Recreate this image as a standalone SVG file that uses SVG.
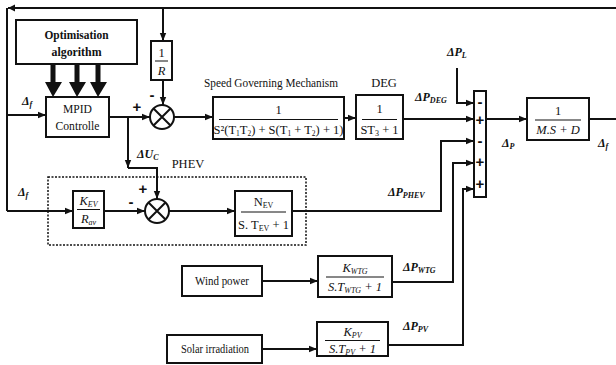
<svg xmlns="http://www.w3.org/2000/svg" width="616" height="365" viewBox="0 0 616 365">
<defs>
<marker id="ah" markerUnits="userSpaceOnUse" markerWidth="8" markerHeight="8" viewBox="0 0 8 8" refX="8" refY="4" orient="auto">
<path d="M0,0.8 L8,4 L0,7.2 Z" fill="#111"/>
</marker>
<style>
.ln{fill:none;stroke:#111;stroke-width:2}
.bx{fill:#fff;stroke:#111;stroke-width:2}
.t{font-family:"Liberation Serif",serif;font-size:12.5px;fill:#111;text-anchor:middle}
.b{font-weight:bold}
.m{font-family:"Liberation Serif",serif;font-style:italic;font-weight:bold;font-size:12px;fill:#111}
.s{font-size:8px}
.sg{font-family:"Liberation Sans",sans-serif;font-weight:bold;font-size:15px;fill:#111;text-anchor:middle}
.fr{stroke:#111;stroke-width:1}
</style>
</defs>
<g id="connectors">
<path class="ln" d="M616,8 H8 M7,8 V211" />
<path d="M8,8 L15,4.5 L15,11.5 Z" fill="#111"/>
<path class="ln" d="M7,211 H73" marker-end="url(#ah)"/>
<path class="ln" d="M7,115 H46" marker-end="url(#ah)"/>
<path class="ln" d="M163,8 V41" marker-end="url(#ah)"/>
<path class="ln" d="M163,80 V105" marker-end="url(#ah)"/>
<path class="ln" d="M109,117 H150" marker-end="url(#ah)"/>
<path class="ln" d="M128,117 V168" marker-end="url(#ah)"/>
<path class="ln" d="M128,168 H157 V199" marker-end="url(#ah)"/>
<path class="ln" d="M104,211 H145" marker-end="url(#ah)"/>
<path class="ln" d="M169,211 H235" marker-end="url(#ah)"/>
<path class="ln" d="M292,211 H441 V141 H474" marker-end="url(#ah)"/>
<path class="ln" d="M174,117 H213" marker-end="url(#ah)"/>
<path class="ln" d="M344,118 H356" marker-end="url(#ah)"/>
<path class="ln" d="M403,119 H474" marker-end="url(#ah)"/>
<path class="ln" d="M457,68 V103 H474" marker-end="url(#ah)"/>
<path class="ln" d="M486,119 H527" marker-end="url(#ah)"/>
<path class="ln" d="M589,119 H616"/>
<path class="ln" d="M262,281 H318" marker-end="url(#ah)"/>
<path class="ln" d="M392,282 H453 V163 H474" marker-end="url(#ah)"/>
<path class="ln" d="M262,349 H317" marker-end="url(#ah)"/>
<path class="ln" d="M388,345 H463 V189 H474" marker-end="url(#ah)"/>
<g fill="#111">
<rect x="50.5" y="64" width="5" height="19"/><path d="M45,82 H62 L53,97 Z"/>
<rect x="74.5" y="64" width="5" height="19"/><path d="M69,82 H86 L77,97 Z"/>
<rect x="95.5" y="64" width="5" height="19"/><path d="M90,82 H107 L98,97 Z"/>
</g>
</g>
<g id="phev-frame">
<rect x="48" y="177" width="258" height="68" fill="none" stroke="#111" stroke-width="1.5" stroke-dasharray="2 1.5"/>
</g>
<g id="optimisation">
<rect class="bx" x="16" y="20" width="121" height="44"/>
<text class="t b" x="76.5" y="39" font-size="13" textLength="64" lengthAdjust="spacingAndGlyphs">Optimisation</text>
<text class="t b" x="76.5" y="56" font-size="13" textLength="50" lengthAdjust="spacingAndGlyphs">algorithm</text>
</g>
<g id="mpid">
<rect class="bx" x="46" y="97" width="63" height="40"/>
<text class="t" x="77.5" y="113" textLength="29" lengthAdjust="spacingAndGlyphs">MPID</text>
<text class="t" x="77.5" y="130" textLength="44" lengthAdjust="spacingAndGlyphs">Controlle</text>
</g>
<g id="droop">
<rect class="bx" x="151" y="41" width="21" height="39"/>
<text class="t" x="161.5" y="57" font-size="11">1</text>
<line class="fr" x1="155" y1="61" x2="168" y2="61"/>
<text class="t" x="161.5" y="75" font-size="12" font-style="italic">R</text>
</g>
<g id="sum1">
<circle cx="162" cy="117" r="12" fill="#fff" stroke="#111" stroke-width="2"/>
<path class="ln" d="M153.5,108.5 L170.5,125.5 M170.5,108.5 L153.5,125.5"/>
<text class="sg" x="137" y="112">+</text>
<text class="sg" x="152" y="100">-</text>
</g>
<g id="sgm">
<text class="t" x="271" y="87" font-size="12" textLength="134" lengthAdjust="spacingAndGlyphs">Speed Governing Mechanism</text>
<rect class="bx" x="213" y="97" width="131" height="42"/>
<text class="t" x="278.5" y="114" font-size="12">1</text>
<line class="fr" x1="219" y1="119.5" x2="338" y2="119.5"/>
<text class="t" x="278.5" y="134" font-size="10.5">S²(T<tspan font-size="7.5" dy="2">1</tspan><tspan dy="-2">T</tspan><tspan font-size="7.5" dy="2">2</tspan><tspan dy="-2">) + S(T</tspan><tspan font-size="7.5" dy="2">1</tspan><tspan dy="-2"> + T</tspan><tspan font-size="7.5" dy="2">2</tspan><tspan dy="-2">) + 1)</tspan></text>
</g>
<g id="deg">
<text class="t" x="384" y="87" font-size="12">DEG</text>
<rect class="bx" x="356" y="95" width="47" height="44"/>
<text class="t" x="379.5" y="113" font-size="12">1</text>
<line class="fr" x1="362" y1="119.5" x2="397" y2="119.5"/>
<text class="t" x="379.5" y="134" font-size="12">ST<tspan class="s" dy="2">3</tspan><tspan dy="-2"> + 1</tspan></text>
</g>
<g id="sumbar">
<rect class="bx" x="474" y="91" width="12" height="106"/>
<text class="sg" x="480" y="107">-</text>
<text class="sg" x="480" y="125">+</text>
<text class="sg" x="480" y="146">-</text>
<text class="sg" x="480" y="167">+</text>
<text class="sg" x="480" y="189">+</text>
</g>
<g id="inertia">
<rect class="bx" x="527" y="98" width="62" height="42"/>
<text class="t" x="558" y="115" font-size="12">1</text>
<line class="fr" x1="535" y1="120" x2="581" y2="120"/>
<text class="t" x="558" y="134" font-size="12" font-style="italic">M.S + D</text>
</g>
<g id="kev">
<rect class="bx" x="73" y="191" width="31" height="37"/>
<text class="t" x="88.5" y="205" font-size="12" font-style="italic">K<tspan class="s" dy="2">EV</tspan></text>
<line class="fr" x1="77" y1="209.5" x2="100" y2="209.5"/>
<text class="t" x="88.5" y="223" font-size="12" font-style="italic">R<tspan class="s" dy="2">av</tspan></text>
</g>
<g id="sum2">
<circle cx="157" cy="211" r="12" fill="#fff" stroke="#111" stroke-width="2"/>
<path class="ln" d="M148.5,202.5 L165.5,219.5 M165.5,202.5 L148.5,219.5"/>
<text class="sg" x="143" y="194">+</text>
<text class="sg" x="131" y="207">-</text>
</g>
<g id="nev">
<rect class="bx" x="235" y="191" width="57" height="45"/>
<text class="t" x="263.5" y="206" font-size="12">N<tspan class="s" dy="2">EV</tspan></text>
<line class="fr" x1="241" y1="212" x2="286" y2="212"/>
<text class="t" x="263.5" y="229" font-size="12">S. T<tspan class="s" dy="2">EV</tspan><tspan dy="-2"> + 1</tspan></text>
</g>
<g id="wind">
<rect class="bx" x="182" y="266" width="80" height="30"/>
<text class="t" x="222" y="285" font-size="12" textLength="54" lengthAdjust="spacingAndGlyphs">Wind power</text>
</g>
<g id="wtg">
<rect class="bx" x="318" y="256" width="74" height="41"/>
<text class="t" x="355" y="272" font-size="12" font-style="italic">K<tspan class="s" dy="2">WTG</tspan></text>
<line class="fr" x1="326" y1="277" x2="384" y2="277"/>
<text class="t" x="355" y="291" font-size="12" font-style="italic">S.T<tspan class="s" dy="2">WTG</tspan><tspan dy="-2"> + 1</tspan></text>
</g>
<g id="solar">
<rect class="bx" x="167" y="335" width="95" height="28"/>
<text class="t" x="215" y="353" font-size="12" textLength="68" lengthAdjust="spacingAndGlyphs">Solar irradiation</text>
</g>
<g id="pv">
<rect class="bx" x="317" y="322" width="71" height="34"/>
<text class="t" x="352.5" y="336" font-size="12" font-style="italic">K<tspan class="s" dy="2">PV</tspan></text>
<line class="fr" x1="325" y1="340.5" x2="380" y2="340.5"/>
<text class="t" x="352.5" y="353" font-size="12" font-style="italic">S.T<tspan class="s" dy="2">PV</tspan><tspan dy="-2"> + 1</tspan></text>
</g>
<g id="labels">
<text class="m" x="22" y="105">Δ<tspan class="s" dy="2">f</tspan></text>
<text class="m" x="18" y="196">Δ<tspan class="s" dy="2">f</tspan></text>
<text class="m" x="137" y="158">ΔU<tspan class="s" dy="2">C</tspan></text>
<text class="t" x="188" y="168" font-size="12">PHEV</text>
<text class="m" x="415" y="101">ΔP<tspan class="s" dy="2">DEG</tspan></text>
<text class="m" x="447" y="56">ΔP<tspan class="s" dy="2">L</tspan></text>
<text class="m" x="388" y="196">ΔP<tspan class="s" dy="2">PHEV</tspan></text>
<text class="m" x="403" y="271">ΔP<tspan class="s" dy="2">WTG</tspan></text>
<text class="m" x="403" y="330">ΔP<tspan class="s" dy="2">PV</tspan></text>
<text class="m" x="502" y="147">Δ<tspan class="s" dy="2">P</tspan></text>
<text class="m" x="598" y="147">Δ<tspan class="s" dy="2">f</tspan></text>
</g>
</svg>
